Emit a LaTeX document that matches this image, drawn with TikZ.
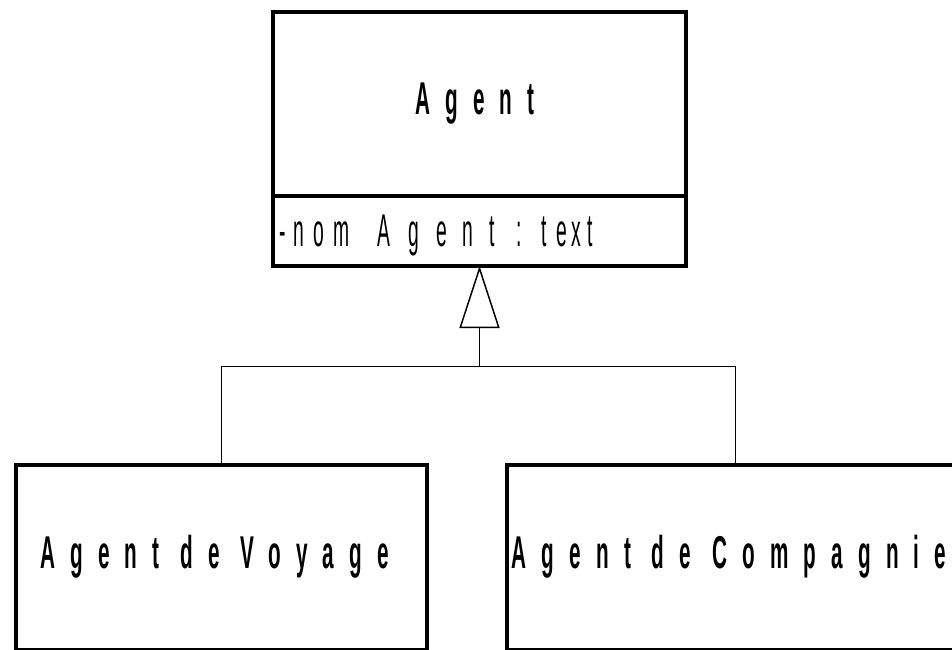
\documentclass[tikz,border=0pt]{standalone}
\usepackage{fontspec}
\setmainfont{Liberation Sans}
\newfontfamily\titlefont[FakeStretch=0.45,LetterSpace=33]{Liberation Sans Bold}
\newfontfamily\attrfont[FakeStretch=0.42]{Liberation Sans}
\usetikzlibrary{arrows.meta}
\tikzset{
  classbox/.style={draw=black, line width=4pt, fill=white, inner sep=0pt, outer sep=0pt},
  txt/.style={inner sep=0pt, outer sep=0pt, font=\titlefont\fontsize{46}{46}\selectfont},
  attrtxt/.style={inner sep=0pt, outer sep=0pt, font=\attrfont\fontsize{46}{46}\selectfont},
  conn/.style={draw=black, line width=1.3pt},
  inherit/.style={conn, -{Triangle[open, length=62pt, width=40pt, line width=1.5pt]}}
}
\begin{document}
\begin{tikzpicture}[x=1pt, y=-1pt]
\useasboundingbox (0,0) rectangle (952,649);
\clip (0,0) rectangle (952,649);
\fill[white] (0,0) rectangle (952,649);
% boxes
\node[classbox, minimum width=413pt, minimum height=254pt] (agent) at (479.5,139) {};
\coordinate (divL) at (273,196);
\coordinate (divR) at (686,196);
\draw[line width=4pt] (divL) -- (divR);
\node[classbox, minimum width=411.5pt, minimum height=185pt] (voyage) at (221.25,557.5) {};
\node[classbox, minimum width=457pt, minimum height=185pt] (compagnie) at (735.5,557.5) {};
% texts
\node[txt] (agenttitle) at (475,104) {Agent};
\node[txt] (voyagetitle) at (214.5,557) {Agent de Voyage};
\node[attrtxt, anchor=base west] (attr) at (279,246)
  {-\kern7.6pt n\kern9.3pt o\kern9.3pt m\kern28pt A\kern18pt g\kern18pt e\kern15pt n\kern16pt t\kern21.6pt :\kern19.6pt t\kern9.6pt e\kern4.3pt x\kern6.3pt t};
\node[txt] (compagnietitle) at (729,557) {Agent de Compagnie};
% inheritance
\coordinate (jn) at (479.5,366.5);
\draw[conn] (voyage.north) |- (jn) -| (compagnie.north);
\draw[inherit] (jn) -- (agent.south);
\end{tikzpicture}
\end{document}
